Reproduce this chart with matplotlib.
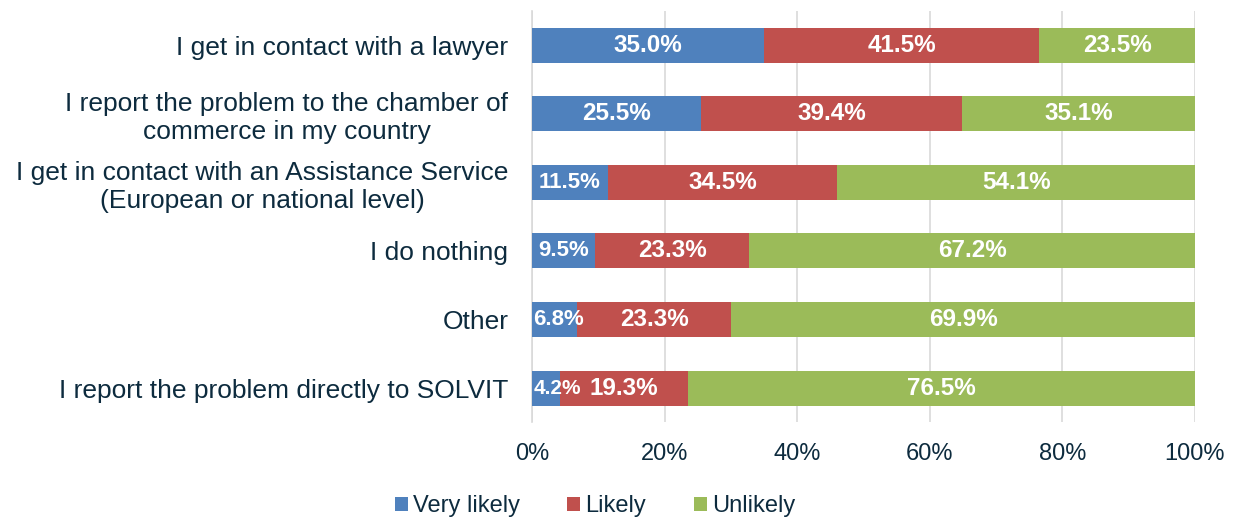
import matplotlib.pyplot as plt
import numpy as np

# ----------------------------
# Data
# ----------------------------
categories = [
    "I get in contact with a lawyer",
    "I report the problem to the chamber of\ncommerce in my country",
    "I get in contact with an Assistance Service\n(European or national level)",
    "I do nothing",
    "Other",
    "I report the problem directly to SOLVIT",
]
very_likely = [35.0, 25.5, 11.5, 9.5, 6.8, 4.2]
likely = [41.5, 39.4, 34.5, 23.3, 23.3, 19.3]
unlikely = [23.5, 35.1, 54.1, 67.2, 69.9, 76.5]
series_names = ["Very likely", "Likely", "Unlikely"]
colors = ["#4f81bd", "#c0504d", "#9bbb59"]
text_color = "#0d2b3e"

plt.rcParams['font.family'] = ['Liberation Sans', 'DejaVu Sans']

fig = plt.figure(figsize=(12.37, 5.19), dpi=100)
ax = fig.add_axes([0.430, 0.186, 0.536, 0.793])

y = np.arange(len(categories))
left = np.zeros(len(categories))
for vals, name, col in zip([very_likely, likely, unlikely], series_names, colors):
    vals = np.array(vals)
    ax.barh(y, vals, left=left, height=0.51, color=col, label=name, zorder=3)
    for yi, l, v in zip(y, left, vals):
        # smaller segments get a smaller label
        if v >= 15:
            fs = 17.5
        elif v >= 5:
            fs = 16
        else:
            fs = 15
        if l == 0 and v < 8:
            # too narrow: keep label inside the plot, starting at the left edge
            ax.text(0.2, yi, f"{v:.1f}%", ha="left", va="center",
                    color="white", fontweight="bold", fontsize=fs, zorder=4)
        else:
            ax.text(l + v / 2, yi, f"{v:.1f}%", ha="center", va="center",
                    color="white", fontweight="bold", fontsize=fs, zorder=4)
    left += vals

ax.set_xlim(0, 100)
ax.set_ylim(len(categories) - 0.5, -0.5)
ax.set_xticks(np.arange(0, 101, 20))
ax.set_xticklabels([f"{t}%" for t in range(0, 101, 20)], fontsize=17)
ax.set_yticks(y)
ax.set_yticklabels(categories, multialignment="center", fontsize=19, linespacing=1.2)
ax.tick_params(axis="both", length=0, labelcolor=text_color)
ax.tick_params(axis="x", pad=15)
ax.tick_params(axis="y", pad=17)
ax.grid(axis="x", color="#d9d9d9", linewidth=1.2, zorder=0)
for s in ["top", "right", "bottom"]:
    ax.spines[s].set_visible(False)
ax.spines["left"].set_color("#d9d9d9")
ax.spines["left"].set_linewidth(1.2)

leg = fig.legend(loc="center", bbox_to_anchor=(0.481, 0.025), ncol=3, frameon=False,
                 fontsize=17, handlelength=0.55, handleheight=0.55, handletextpad=0.22,
                 columnspacing=2.0)
for t in leg.get_texts():
    t.set_color(text_color)

fig.savefig("out.png", dpi=100)
